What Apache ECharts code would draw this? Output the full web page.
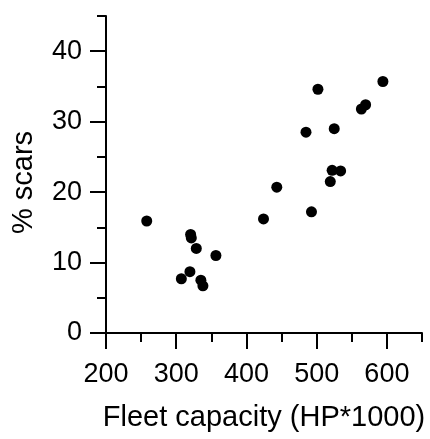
<!DOCTYPE html>
<html>
<head>
<meta charset="utf-8">
<script src="https://cdn.jsdelivr.net/npm/echarts@6/dist/echarts.min.js"></script>
<style>
html,body{margin:0;padding:0;background:#fff;}
#chart{width:430px;height:439px;}
</style>
</head>
<body>
<div id="chart"></div>
<script>
// Fleet capacity (HP*1000)
var fleetCapacity = [258, 320.5, 321.5, 328.6, 356.5, 307.3, 319.5, 335.1, 338, 424.3, 443.2, 484.8, 501.8, 492.6, 525, 519.4, 522, 534.1, 563.7, 569.7, 594.3];
// % scars
var pctScars = [15.9, 14.0, 13.5, 12.0, 11.0, 7.7, 8.7, 7.5, 6.7, 16.2, 20.7, 28.5, 34.6, 17.2, 29.0, 21.5, 23.1, 23.0, 31.8, 32.4, 35.7];

var xMajorTicks = [200, 300, 400, 500, 600];
var xMinorTicks = [250, 350, 450, 550, 650];
var yMajorTicks = [0, 10, 20, 30, 40];
var yMinorTicks = [5, 15, 25, 35, 45];
var xRange = [200, 650];
var yRange = [0, 45];
var xTitle = 'Fleet capacity (HP*1000)';
var yTitle = '% scars';

var points = fleetCapacity.map(function (x, i) { return [x, pctScars[i]]; });

var FONT = '"Liberation Sans", Arial, sans-serif';
var lineStyle = { color: '#000', width: 2 };

var chart = echarts.init(document.getElementById('chart'), null, { renderer: 'canvas' });
chart.setOption({
  animation: false,
  backgroundColor: '#fff',
  grid: { left: 106, right: 8, top: 16, bottom: 106, containLabel: false },
  xAxis: [
    {
      type: 'value', position: 'bottom', min: xRange[0], max: xRange[1],
      name: xTitle, nameLocation: 'middle', nameGap: 70,
      nameTextStyle: { color: '#000', fontSize: 29, fontFamily: FONT },
      axisLine: { show: true, onZero: false, lineStyle: lineStyle },
      axisTick: { show: true, inside: false, length: 16, lineStyle: lineStyle, customValues: xMajorTicks },
      axisLabel: { show: true, margin: 28, color: '#000', fontSize: 27, fontFamily: FONT, customValues: xMajorTicks },
      splitLine: { show: false }
    },
    {
      type: 'value', position: 'bottom', min: xRange[0], max: xRange[1],
      axisLine: { show: false, onZero: false },
      axisTick: { show: true, inside: false, length: 9, lineStyle: lineStyle, customValues: xMinorTicks },
      axisLabel: { show: false },
      splitLine: { show: false }
    }
  ],
  yAxis: [
    {
      type: 'value', position: 'left', min: yRange[0], max: yRange[1],
      name: yTitle, nameLocation: 'middle', nameGap: 68, nameRotate: 90,
      nameTextStyle: { color: '#000', fontSize: 29, fontFamily: FONT, padding: [0, 16, 0, 0] },
      axisLine: { show: true, onZero: false, lineStyle: lineStyle },
      axisTick: { show: true, inside: false, length: 16, lineStyle: lineStyle, customValues: yMajorTicks },
      axisLabel: { show: true, margin: 24, color: '#000', fontSize: 27, fontFamily: FONT, customValues: yMajorTicks },
      splitLine: { show: false }
    },
    {
      type: 'value', position: 'left', min: yRange[0], max: yRange[1],
      axisLine: { show: false, onZero: false },
      axisTick: { show: true, inside: false, length: 9, lineStyle: lineStyle, customValues: yMinorTicks },
      axisLabel: { show: false },
      splitLine: { show: false }
    }
  ],
  series: [{
    type: 'scatter',
    xAxisIndex: 0, yAxisIndex: 0,
    symbol: 'circle', symbolSize: 11,
    itemStyle: { color: '#000', opacity: 1 },
    data: points
  }]
});
</script>
</body>
</html>
